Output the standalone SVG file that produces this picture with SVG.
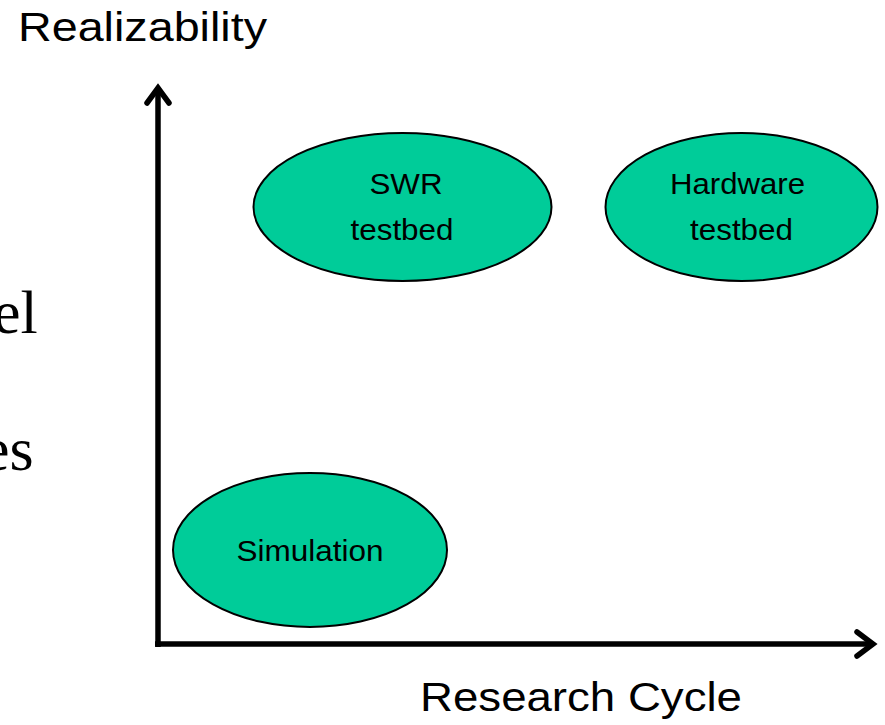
<svg xmlns="http://www.w3.org/2000/svg" width="885" height="725" viewBox="0 0 885 725">
  <style>
    .node ellipse { fill: #00CC99; stroke: #000; stroke-width: 2; }
    .node text { font-family: "Liberation Sans", Arial, sans-serif; font-size: 30px; fill: #000; text-anchor: middle; }
    .axis { stroke: #000; stroke-width: 5.5; fill: none; stroke-linecap: butt; }
    .head { stroke: #000; stroke-width: 5.5; fill: none; stroke-linecap: round; stroke-linejoin: miter; }
    .label { font-family: "Liberation Sans", Arial, sans-serif; font-size: 40px; fill: #000; }
    .bg { font-family: "Liberation Serif", "Times New Roman", serif; font-size: 62px; fill: #000; }
  </style>
  <rect width="885" height="725" fill="#fff"/>

  <!-- body text running in from the left margin -->
  <text class="bg" x="-7" y="333">el</text>
  <text class="bg" x="-18" y="470">es</text>

  <!-- axes -->
  <g id="connectors">
    <line class="axis" x1="158" y1="647" x2="158" y2="90"/>
    <polyline class="head" points="147,103 158,88 169,103"/>
    <line class="axis" x1="155" y1="644" x2="872" y2="644"/>
    <polyline class="head" points="857,632 873,644 857,656"/>
  </g>

  <text class="label" x="18" y="41" textLength="249" lengthAdjust="spacingAndGlyphs">Realizability</text>
  <text class="label" x="420" y="711" textLength="322" lengthAdjust="spacingAndGlyphs">Research Cycle</text>

  <g id="swr" class="node">
    <ellipse cx="402.5" cy="207" rx="149" ry="74"/>
    <text x="406" y="194" textLength="73" lengthAdjust="spacingAndGlyphs">SWR</text>
    <text x="402" y="240" textLength="103" lengthAdjust="spacingAndGlyphs">testbed</text>
  </g>
  <g id="hardware" class="node">
    <ellipse cx="741.5" cy="207" rx="136" ry="74"/>
    <text x="737.5" y="194" textLength="135" lengthAdjust="spacingAndGlyphs">Hardware</text>
    <text x="741.5" y="240" textLength="103" lengthAdjust="spacingAndGlyphs">testbed</text>
  </g>
  <g id="simulation" class="node">
    <ellipse cx="310" cy="550" rx="137" ry="77"/>
    <text x="310" y="561" textLength="147" lengthAdjust="spacingAndGlyphs">Simulation</text>
  </g>
</svg>
